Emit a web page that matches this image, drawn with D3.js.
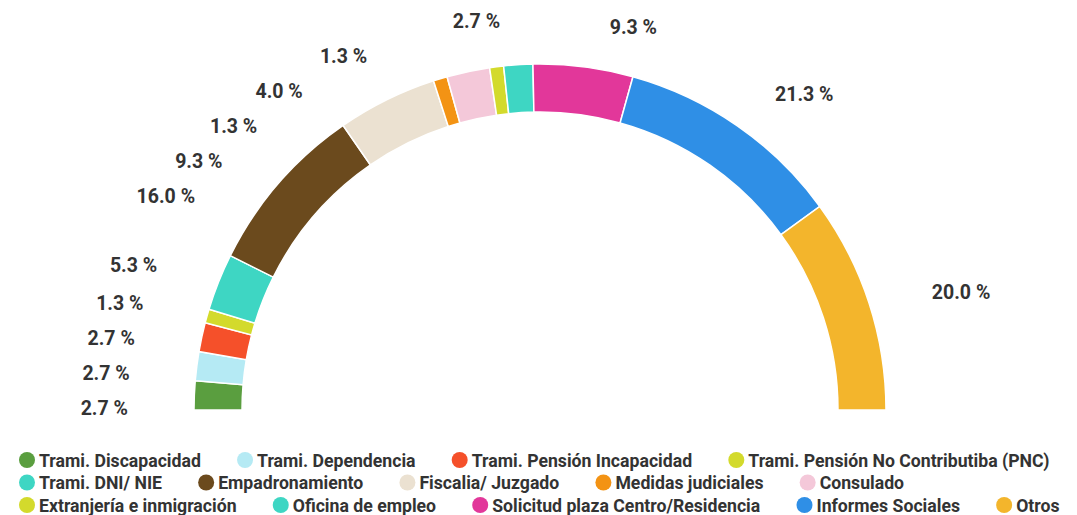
<!DOCTYPE html>
<html><head><meta charset="utf-8">
<script src="https://cdn.jsdelivr.net/npm/d3@7"></script>
<style>
body{margin:0;background:#fff;}
text{font-family:Roboto,"Liberation Sans",sans-serif;font-weight:700;fill:#333;}
</style>
</head><body>
<svg id="chart" width="1077" height="515"></svg>
<script>
// ---- data ----
const categories = [
  "Trami. Discapacidad","Trami. Dependencia","Trami. Pensión Incapacidad",
  "Trami. Pensión No Contributiba (PNC)","Trami. DNI/ NIE","Empadronamiento",
  "Fiscalia/ Juzgado","Medidas judiciales","Consulado",
  "Extranjería e inmigración","Oficina de empleo","Solicitud plaza Centro/Residencia",
  "Informes Sociales","Otros"
];
const values = [2.7, 2.7, 2.7, 1.3, 5.3, 16.0, 9.3, 1.3, 4.0, 1.3, 2.7, 9.3, 21.3, 20.0];
const palette = [
  "#5a9e3f","#b5eaf4","#f5502a","#d3da2c","#3ed6c3","#6b4a1d","#ebe1d1",
  "#f39314","#f4c8d9","#d3da2c","#3ed6c3","#e2379a","#2f8fe6","#f3b52c"
];

// ---- layout ----
const W = 1077, H = 515;
const cx = 540, cy = 410, rOuter = 346, rInner = 298;
const labelA = 412, labelB = 388, labelGap = 35;
const sx = 0.93; // slightly condensed look

const svg = d3.select("#chart");
const color = d3.scaleOrdinal().domain(categories).range(palette);

const pie = d3.pie().sort(null).value(d => d.v)
  .startAngle(-Math.PI/2).endAngle(Math.PI/2);
const data = categories.map((c,i) => ({c, v: values[i]}));
const arcs = pie(data);

const arc = d3.arc().innerRadius(rInner).outerRadius(rOuter);
const g = svg.append("g").attr("transform", `translate(${cx},${cy})`);
g.selectAll("path").data(arcs).join("path")
  .attr("d", arc)
  .attr("fill", d => color(d.data.c))
  .attr("stroke", "#fff").attr("stroke-width", 1.5);

// labels
const labels = arcs.map(d => {
  const a = (d.startAngle + d.endAngle) / 2;
  return {d, a, side: a < 0 ? -1 : 1, y: cy - labelB * Math.cos(a),
    text: d3.format(".1f")(d.data.v) + " %"};
});
[-1, 1].forEach(side => {
  const grp = labels.filter(l => l.side === side).sort((p, q) => p.y - q.y);
  let prev = -Infinity;
  grp.forEach(l => { l.y = Math.max(l.y, prev + labelGap); prev = l.y; });
});
labels.forEach(l => {
  const dy = (cy - l.y) / labelB;
  const f = Math.max(Math.abs(Math.sin(l.a)), Math.sqrt(Math.max(0, 1 - dy*dy)));
  const extra = f < 0.2 ? (l.side > 0 ? 18 : 14) : 0;
  l.x = cx + l.side * (labelA * f + extra);
});
svg.append("g").selectAll("text").data(labels).join("text")
  .attr("transform", l => `translate(${l.x},${l.y + (l.side > 0 ? 2 : -2)}) scale(${sx},1)`)
  .attr("dy", "0.35em")
  .attr("text-anchor", l => l.side < 0 ? "end" : "start")
  .style("font-size", "21px")
  .text(l => l.text);

// legend (flow layout)
const legend = svg.append("g");
const rowY = [460, 482.5, 505];
let lx = 19, row = 0;
const maxX = W - 4;
categories.forEach((c, i) => {
  const item = legend.append("g");
  const t = item.append("text").style("font-size", "19px").attr("dy", "0.35em").text(c);
  const w = t.node().getComputedTextLength() * sx;
  if (lx + 20 + w > maxX) { row++; lx = 19; }
  item.attr("transform", `translate(${lx},${rowY[row]})`);
  item.insert("circle", "text").attr("cx", 8).attr("cy", 0).attr("r", 8).attr("fill", color(c));
  t.attr("transform", `translate(20,0) scale(${sx},1)`);
  lx += 20 + w + 36;
});
</script>
</body></html>
